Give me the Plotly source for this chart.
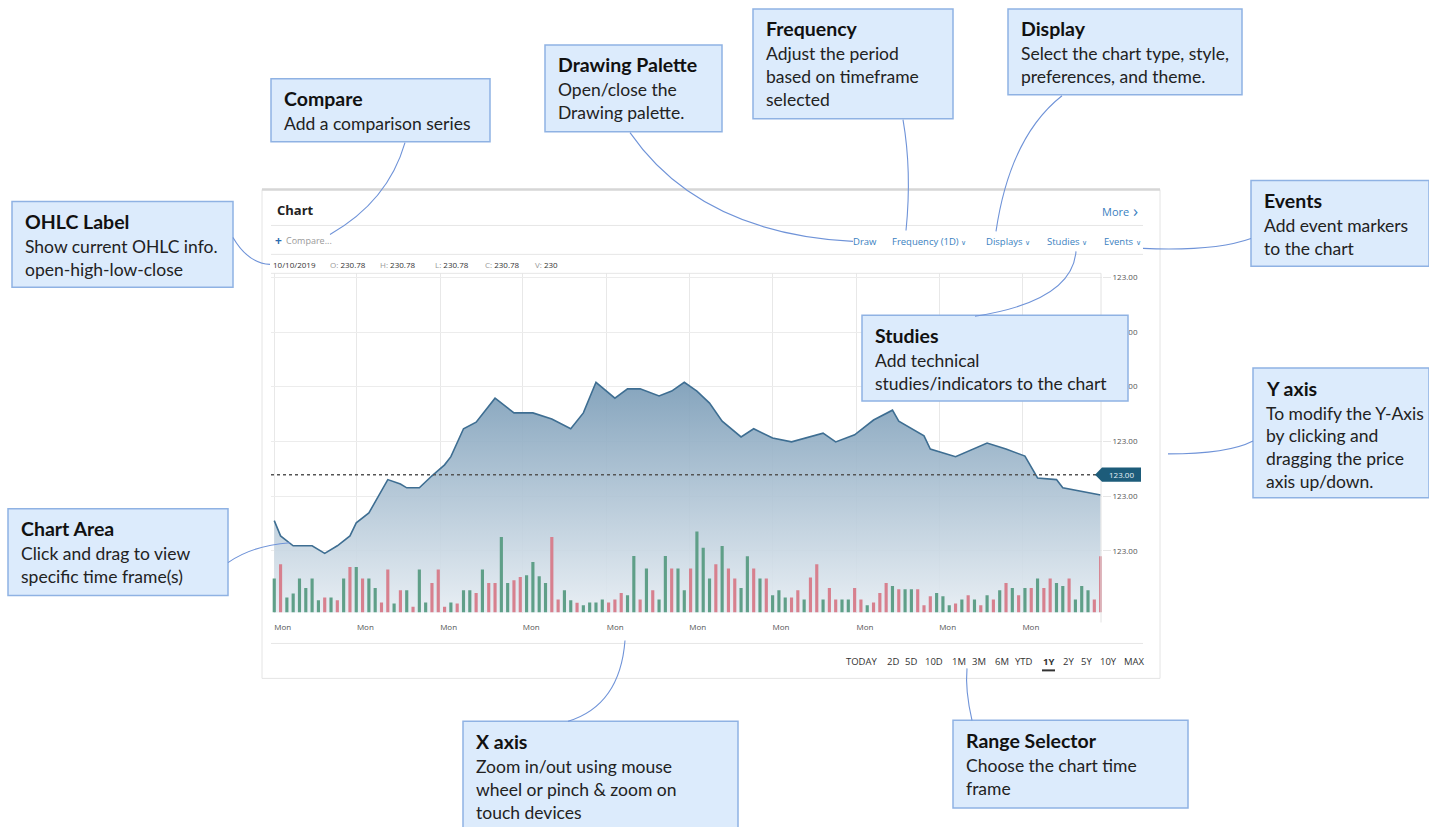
import plotly.graph_objects as go

W, H = 1429, 827

# price line vertices: bar index and close value
PRICE_IDX = [0, 1, 3, 6, 8, 10, 12, 13, 15, 18,
             20, 21, 23, 25, 27, 28, 30, 32, 35, 38,
             41, 44, 47, 49, 51, 54, 56, 58, 61, 63,
             65, 67, 69, 71, 74, 76, 79, 82, 87, 89,
             92, 95, 98, 99, 103, 104, 108, 113, 116, 119,
             121, 124, 125, 127, 131]
PRICE = [205.5, 202.7, 200.9, 200.9, 199.5, 200.9, 202.7, 205.1, 206.9, 213.0,
         212.2, 211.5, 211.5, 213.7, 215.7, 217.2, 222.3, 223.5, 227.9, 225.2,
         225.2, 224.1, 222.3, 225.2, 230.8, 227.9, 229.6, 229.6, 228.3, 229.2,
         230.8, 229.2, 227.0, 223.7, 220.8, 222.3, 220.6, 219.9, 221.5, 219.9,
         221.2, 223.9, 225.7, 223.7, 221.0, 218.6, 217.2, 219.7, 218.6, 217.3,
         213.3, 213.0, 211.5, 211.1, 210.2]

# daily volume, one bar per session
VOLUME = [102, 145, 45, 57, 102, 74, 102, 37, 45, 45,
          37, 102, 137, 137, 102, 102, 74, 30, 129, 27,
          67, 67, 17, 129, 30, 89, 129, 17, 30, 27,
          67, 67, 59, 129, 89, 89, 227, 89, 97, 107,
          112, 152, 109, 89, 227, 39, 67, 37, 29, 22,
          30, 30, 39, 30, 39, 59, 52, 170, 39, 132,
          67, 39, 170, 132, 132, 67, 132, 244, 195, 102,
          145, 200, 132, 102, 74, 169, 132, 102, 102, 52,
          67, 45, 45, 67, 39, 105, 145, 39, 74, 39,
          39, 39, 74, 39, 22, 30, 59, 89, 80, 70,
          70, 70, 70, 22, 49, 59, 49, 22, 27, 39,
          52, 39, 22, 52, 39, 67, 89, 74, 52, 74,
          74, 102, 74, 102, 89, 80, 102, 39, 80, 67,
          39, 169]
# G = up day, R = down day
DIRECTION = list("GRGGGGGGRG" "RGRGRGGRRG" "RGRGGRRRGR" "GGRGRRGGRR"
                 "GGGGRRGGRG" "GGGRRRGGRG" "RGGRGGRGGG" "RGRRGGRGRG"
                 "GGRRGRRGRR" "GGRRGRRRGR" "GGRRRGGGRG" "RGRGRGRGRG"
                 "RGRRGGRGGG" "RR")

MON_TICKS = [0, 13.1, 26.3, 39.4, 52.7, 65.8, 79.0, 92.3, 105.4, 118.6]
PRICE_TICKS = [200, 210, 220, 230, 240, 250]
PRICE_TICK_TEXT = ["123.00"] * len(PRICE_TICKS)
LAST_LEVEL = 213.9

OHLC_LABELS = ["", "O: ", "H: ", "L: ", "C: ", "V: "]
OHLC_VALUES = ["10/10/2019", "230.78", "230.78", "230.78", "230.78", "230"]
TOOLBAR = ["Draw", "Frequency (1D)", "Displays", "Studies", "Events"]
RANGES = ["TODAY", "2D", "5D", "10D", "1M", "3M", "6M", "YTD", "1Y", "2Y", "5Y", "10Y", "MAX"]
ACTIVE_RANGE = "1Y"

CALLOUTS = [
    ("Compare", ["Add a comparison series"]),
    ("Drawing Palette", ["Open/close the", "Drawing palette."]),
    ("Frequency", ["Adjust the period", "based on timeframe", "selected"]),
    ("Display", ["Select the chart type, style,", "preferences, and theme."]),
    ("Events", ["Add event markers", "to the chart"]),
    ("OHLC Label", ["Show current OHLC info.", "open-high-low-close"]),
    ("Studies", ["Add technical", "studies/indicators to the chart"]),
    ("Y axis", ["To modify the Y-Axis", "by clicking and", "dragging the price", "axis up/down."]),
    ("Chart Area", ["Click and drag to view", "specific time frame(s)"]),
    ("X axis", ["Zoom in/out using mouse", "wheel or pinch & zoom on", "touch devices"]),
    ("Range Selector", ["Choose the chart time", "frame"]),
]


def px(x):
    return x / W


def py(y):
    return 1 - y / H


# box rectangles (left, top, right, bottom) in page pixels, same order as CALLOUTS
BOXES = [(271, 77, 490, 140), (545, 43, 722, 130), (753, 7, 953, 117),
         (1008, 7, 1242, 93), (1251, 179, 1429, 265), (12, 200, 233, 286),
         (862, 314, 1128, 400), (1253, 367, 1429, 497), (8, 508, 228, 595),
         (463, 721, 738, 830), (953, 720, 1188, 808)]
# leader curves: start, control, end
LEADERS = [((405, 141), (388, 200), (330, 233)),
           ((630, 131), (700, 232), (853, 240)),
           ((903, 118), (912, 170), (906, 229)),
           ((1062, 94), (1010, 135), (996, 230)),
           ((1251, 237), (1215, 250), (1143, 247)),
           ((1076, 250), (1072, 300), (975, 315)),
           ((233, 236), (248, 262), (270, 263)),
           ((1253, 440), (1228, 453), (1168, 453)),
           ((228, 562), (252, 545), (290, 542)),
           ((568, 721), (620, 705), (625, 640)),
           ((972, 720), (965, 690), (967, 668))]

UP, DOWN = "#5f9f88", "#d7808e"
BLUE = "#3a7fc1"
WF = "Open Sans"
CF = "Lato"

fig = go.Figure()

fig.add_trace(go.Scatter(
    x=PRICE_IDX, y=PRICE, mode="lines",
    line=dict(color="#3e6e92", width=1.6),
    fill="tozeroy",
    fillgradient=dict(type="vertical", start=188.7, stop=231,
                      colorscale=[[0, "rgba(230,237,243,0.9)"], [1, "rgba(122,156,183,0.92)"]]),
    hoverinfo="skip", showlegend=False,
))

fig.add_trace(go.Bar(
    x=list(range(len(VOLUME))), y=VOLUME, yaxis="y2",
    marker=dict(color=[UP if d == "G" else DOWN for d in DIRECTION], line=dict(width=0)),
    width=0.5, hoverinfo="skip", showlegend=False,
))

shapes = []
annotations = []


def hline(y, x0, x1, color="#e6e6e6", width=1):
    shapes.append(dict(type="line", xref="paper", yref="paper", x0=px(x0), x1=px(x1), y0=py(y), y1=py(y),
                       line=dict(color=color, width=width)))


def text(x, y, s, size, color, family=WF, anchor="left"):
    annotations.append(dict(x=px(x), y=py(y), text=s, xanchor=anchor,
                            font=dict(size=size, color=color, family=family)))


# widget frame and separators
shapes.append(dict(type="rect", xref="paper", yref="paper", x0=px(262), x1=px(1160), y0=py(678), y1=py(188),
                   line=dict(color="#e4e4e4", width=1)))
hline(188, 262, 1160, "#d6d6d6", 2.5)
for yy in (224, 253, 643):
    hline(yy, 271, 1143)
hline(272, 271, 1101)
shapes.append(dict(type="line", xref="paper", yref="paper", x0=px(1101), x1=px(1101), y0=py(272), y1=py(622),
                   line=dict(color="#e2e2e2", width=1)))

# last price marker
shapes.append(dict(type="line", xref="paper", yref="y", x0=px(271), x1=px(1101), y0=LAST_LEVEL, y1=LAST_LEVEL,
                   line=dict(color="#555", width=1.4, dash="dot")))
d = 1.3
shapes.append(dict(type="path", xref="paper", yref="y", fillcolor="#1d5c7a", line=dict(width=0),
                   path=f"M {px(1095)},{LAST_LEVEL} L {px(1102)},{LAST_LEVEL + d} L {px(1141)},{LAST_LEVEL + d} "
                        f"L {px(1141)},{LAST_LEVEL - d} L {px(1102)},{LAST_LEVEL - d} Z"))
annotations.append(dict(x=px(1121), y=LAST_LEVEL, xref="paper", yref="y", text="123.00", xanchor="center",
                        font=dict(size=8, color="#e8f2f7", family=WF)))

# widget header
text(275, 209, "<b>Chart</b>", 13, "#222")
text(1100, 210, "More", 11, BLUE)
text(1131, 209, "›", 17, BLUE)
text(273, 239, "<b>+</b>", 12, "#2b6cb0")
text(284, 239, "Compare...", 9, "#9a9a9a")

tool_x = [851, 890, 984, 1045, 1102]
for i, (name, x) in enumerate(zip(TOOLBAR, tool_x)):
    s = name if i == 0 else name + " <span style='font-size:7px'>∨</span>"
    text(x, 240, s, 9.5, BLUE)

ohlc_x = [271, 328, 378, 433, 483, 533]
for lab, val, x in zip(OHLC_LABELS, OHLC_VALUES, ohlc_x):
    text(x, 263, f"<span style='color:#999'>{lab}</span>{val}", 8, "#333")

# range selector
range_x = [845, 886, 904, 924, 951, 971, 994, 1014, 1042, 1062, 1080, 1099, 1123]
for r, x in zip(RANGES, range_x):
    text(x - 1, 661, f"<b>{r}</b>" if r == ACTIVE_RANGE else r, 9.5, "#333")
    if r == ACTIVE_RANGE:
        hline(670, x, x + 13, "#333", 2)

# callout boxes
for (title, body), (l, t, r, b) in zip(CALLOUTS, BOXES):
    shapes.append(dict(type="rect", xref="paper", yref="paper", x0=px(l), x1=px(r), y0=py(b), y1=py(t),
                       fillcolor="#dcebfc", line=dict(color="#8fb2e3", width=1.5)))
    text(l + 11, t + 20, f"<b>{title}</b>", 19.5, "#111", CF)
    for k, line in enumerate(body):
        text(l + 11, t + 45 + 23 * k, line, 17.5, "#222", CF)

for (x0, y0), (cx, cy), (x1, y1) in LEADERS:
    shapes.append(dict(type="path", xref="paper", yref="paper", line=dict(color="#6f93d8", width=1.1),
                       path=f"M {px(x0)},{py(y0)} Q {px(cx)},{py(cy)} {px(x1)},{py(y1)}"))

for a in annotations:
    a.setdefault("xref", "paper")
    a.setdefault("yref", "paper")
    a.setdefault("showarrow", False)
    a.setdefault("yanchor", "middle")

fig.update_layout(
    width=W, height=H,
    margin=dict(l=0, r=0, t=0, b=0),
    paper_bgcolor="white", plot_bgcolor="white",
    xaxis=dict(domain=[px(271.1), px(1101.9)], range=[-0.5, 131.2],
               tickvals=MON_TICKS, ticktext=["Mon"] * len(MON_TICKS),
               ticklabelposition="outside right", ticklabelstandoff=8,
               showgrid=True, gridcolor="#e8e8e8", zeroline=False, showline=False, ticks="",
               tickfont=dict(size=8, color="#555", family=WF), fixedrange=True),
    yaxis=dict(domain=[py(612), py(272)], range=[188.69, 250.73], side="right",
               tickvals=PRICE_TICKS, ticktext=PRICE_TICK_TEXT,
               showgrid=True, gridcolor="#ececec", zeroline=False,
               ticks="outside", ticklen=8, tickcolor="#e6e6e6",
               tickfont=dict(size=8, color="#555", family=WF)),
    yaxis2=dict(overlaying="y", range=[0, 1020], visible=False),
    shapes=shapes,
    annotations=annotations,
)

fig.write_html("out.html", config={"displayModeBar": False},
               post_script="document.body.style.margin = '0';")
